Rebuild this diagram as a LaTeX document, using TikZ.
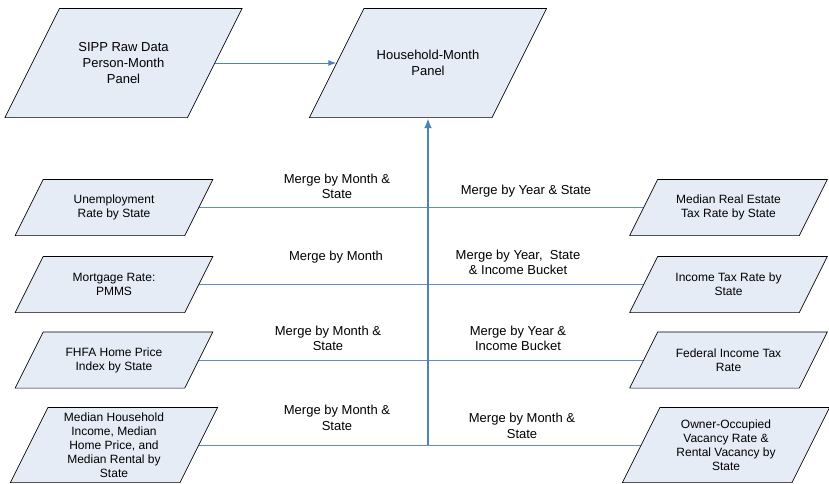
\documentclass[tikz,border=0pt]{standalone}
\usepackage{fontspec}
\setmainfont{Liberation Sans}
\usepackage{tikz}
\usetikzlibrary{arrows.meta}
\usetikzlibrary{calc}
\usetikzlibrary{backgrounds}
\definecolor{boxfill}{RGB}{230,236,246}
\definecolor{linkblue}{RGB}{96,140,200}
\definecolor{trunkblue}{RGB}{79,129,189}
% slanted data box: the rectangle is the outer box, the parallelogram is drawn inside it
\tikzstyle{datain}=[
        rectangle,
        inner sep=0pt,
        align=center,
        font=\fontsize{12}{14}\selectfont,
        minimum height=57pt,
        minimum width=198.5pt,
        path picture={
          \filldraw[fill=boxfill,draw=black,line width=0.7pt]
            let \p1=(path picture bounding box.south west),
                \p2=(path picture bounding box.north east),
                \n1={(\y2-\y1)/2} in
            (\x1+0.4pt,\y1+0.4pt) -- (\x2-\n1,\y1+0.4pt) -- (\x2-0.4pt,\y2-0.4pt)
            -- (\x1+\n1,\y2-0.4pt) -- cycle;
        }
]
\tikzstyle{panel}=[datain,font=\fontsize{13}{16}\selectfont,minimum height=110pt,minimum width=238pt]
\tikzstyle{tall}=[minimum height=76pt,minimum width=208pt]
\tikzstyle{mergelbl}=[align=center,inner sep=0pt,font=\fontsize{13}{15.5}\selectfont]
\tikzstyle{link}=[linkblue,line width=1pt]
\tikzstyle{feed}=[-{Latex[length=8pt,width=6pt]},trunkblue,line width=1pt]
\tikzstyle{trunk}=[-{Latex[length=10pt,width=8pt]},trunkblue,line width=2pt]

\begin{document}
\begin{tikzpicture}[x=1pt,y=-1pt]
\useasboundingbox (0,0) rectangle (829,483);
\node[panel] (sipp) at (123.5,63) {SIPP Raw Data\\Person-Month\\Panel};
\node[panel] (house) at (428,63) {Household-Month\\Panel};
\node[datain] (unemp) at (114,207.5) {Unemployment\\Rate by State};
\node[datain] (mort) at (114,284.5) {Mortgage Rate:\\PMMS};
\node[datain] (fhfa) at (114,360) {FHFA Home Price\\Index by State};
\node[datain,tall] (medinc) at (114,445) {Median Household\\Income, Median\\Home Price, and\\Median Rental by\\State};
\node[datain] (retax) at (728.5,207.5) {Median Real Estate\\Tax Rate by State};
\node[datain] (inctax) at (728.5,284.5) {Income Tax Rate by\\State};
\node[datain] (fedtax) at (728.5,360) {Federal Income Tax\\Rate};
\node[datain,tall] (vacancy) at (726,445) {Owner-Occupied\\Vacancy Rate \&\\Rental Vacancy by\\State};
\coordinate (base) at (428,445);
%Merge labels
\node[mergelbl] (munemp) at (337,186.5) {Merge by Month \&\\State};
\node[mergelbl] (mmort) at (336,257) {Merge by Month};
\node[mergelbl] (mfhfa) at (328,338.5) {Merge by Month \&\\State};
\node[mergelbl] (mmedinc) at (337,418) {Merge by Month \&\\State};
\node[mergelbl] (mretax) at (526,191) {Merge by Year \& State};
\node[mergelbl] (minctax) at (518,262.5) {Merge by Year,\ \ State\\\& Income Bucket};
\node[mergelbl] (mfedtax) at (518,338.5) {Merge by Year \&\\Income Bucket};
\node[mergelbl] (mvacancy) at (522,426) {Merge by Month \&\\State};
%Drawing Edges (behind the boxes)
\begin{pgfonlayer}{background}
\draw[link] (unemp.center) -- (unemp -| base);
\draw[link] (mort.center) -- (mort -| base);
\draw[link] (fhfa.center) -- (fhfa -| base);
\draw[link] (medinc.center) -- (base);
\draw[link] (retax.center) -- (retax -| base);
\draw[link] (inctax.center) -- (inctax -| base);
\draw[link] (fedtax.center) -- (fedtax -| base);
\draw[link] (vacancy.center) -- (base);
\end{pgfonlayer}
\draw[feed] ([xshift=-27.5pt]sipp.east) -- ([xshift=27.5pt]house.west);
\draw[trunk] (base) -- (house.south);
\end{tikzpicture}
\end{document}
